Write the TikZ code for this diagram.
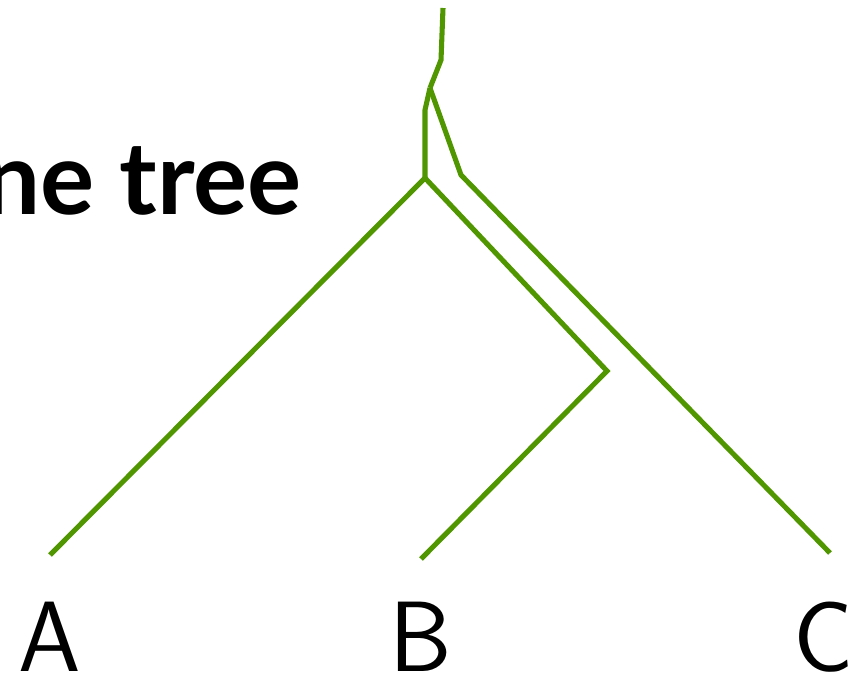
\documentclass[tikz,border=0pt]{standalone}
\usepackage{fontspec}
\newfontfamily\titlefont{Lato}
\definecolor{treegreen}{RGB}{80,150,0}
\tikzset{
  branch/.style={draw=treegreen, line width=3.8pt, line join=miter, line cap=butt},
  leaf/.style={inner sep=0pt, anchor=base, font=\fontsize{75}{80}\selectfont\sffamily},
  heading/.style={inner sep=0pt, anchor=base east, font=\fontsize{76}{80}\selectfont\titlefont\bfseries}
}
\begin{document}
\begin{tikzpicture}[x=0.75pt,y=-0.75pt]
\useasboundingbox (0,0) rectangle (861,680);
\begin{scope}
\clip (0,0) rectangle (861,680);
\node[heading] (title) at (302,215) {ne tree};
\end{scope}
% coordinates
\coordinate (top) at (443,8);
\coordinate (k1) at (441,60);
\coordinate (fork) at (430,88);
\coordinate (k2) at (425,110);
\coordinate (ab) at (425,178);
\coordinate (k3) at (461,175);
\coordinate (bb) at (607,371);
\coordinate (ea) at (50,555);
\coordinate (eb) at (421,559);
\coordinate (ec) at (830,553);
\draw[branch] (top) -- (k1) -- (fork);
\draw[branch] (fork) -- (k2) -- (ab);
\draw[branch] (fork) -- (k3) -- (ec);
\draw[branch] (ab) -- (ea);
\draw[branch] (ab) -- (bb) -- (eb);
\node[leaf] (A) at (50,672) {A};
\node[leaf] (B) at (421,672) {B};
\node[leaf] (C) at (824,672) {C};
\end{tikzpicture}
\end{document}
